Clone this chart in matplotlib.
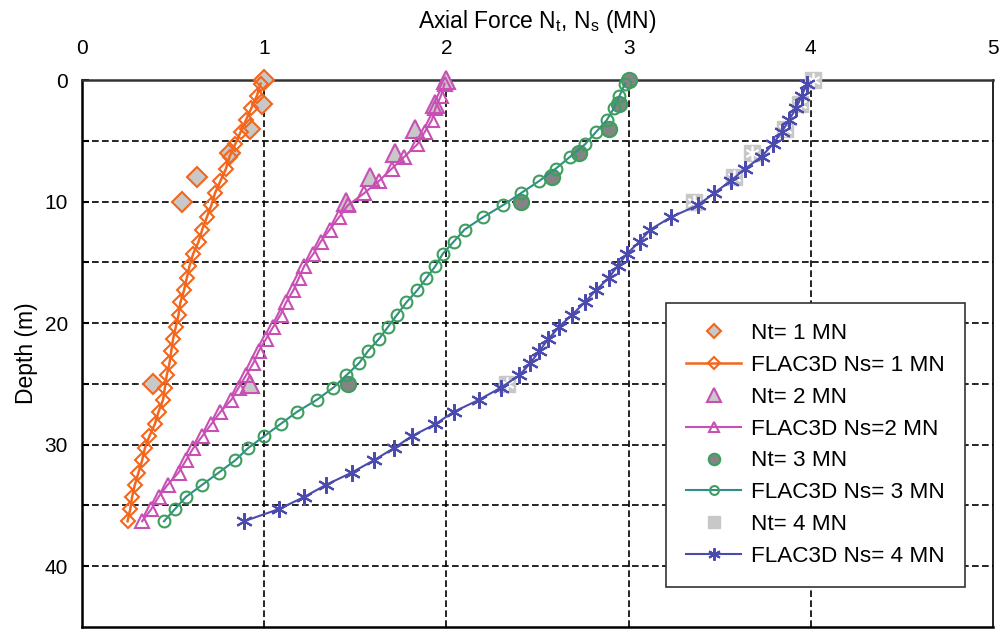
import matplotlib
matplotlib.use("Agg")
import matplotlib.pyplot as plt

plt.rcParams['font.family'] = ['Liberation Sans', 'DejaVu Sans']

# ---------------- data ----------------
flac_depth = [0.3, 1.3, 2.3, 3.3, 4.3, 5.3, 6.3, 7.3, 8.3, 9.3, 10.3, 11.3, 12.3,
              13.3, 14.3, 15.3, 16.3, 17.3, 18.3, 19.3, 20.3, 21.3, 22.3, 23.3,
              24.3, 25.3, 26.3, 27.3, 28.3, 29.3, 30.3, 31.3, 32.3, 33.3, 34.3,
              35.3, 36.3]
ns1 = [0.98, 0.96, 0.93, 0.90, 0.87, 0.84, 0.81, 0.79, 0.76, 0.73, 0.71, 0.685, 0.66,
       0.64, 0.61, 0.59, 0.575, 0.56, 0.54, 0.53, 0.515, 0.50, 0.49, 0.48,
       0.465, 0.455, 0.445, 0.42, 0.40, 0.37, 0.345, 0.33, 0.31, 0.29, 0.275,
       0.265, 0.25]
ns2 = [1.99, 1.97, 1.94, 1.92, 1.88, 1.84, 1.77, 1.70, 1.63, 1.55, 1.46, 1.41, 1.36,
       1.31, 1.27, 1.22, 1.19, 1.16, 1.12, 1.09, 1.05, 1.01, 0.97, 0.94,
       0.90, 0.86, 0.82, 0.76, 0.71, 0.66, 0.61, 0.57, 0.53, 0.47, 0.42,
       0.38, 0.33]
ns3 = [2.98, 2.95, 2.92, 2.88, 2.82, 2.76, 2.68, 2.60, 2.51, 2.41, 2.31, 2.20, 2.10,
       2.04, 1.98, 1.94, 1.89, 1.84, 1.78, 1.73, 1.68, 1.63, 1.57, 1.52,
       1.45, 1.38, 1.29, 1.18, 1.09, 1.00, 0.91, 0.84, 0.75, 0.66, 0.57,
       0.51, 0.45]
ns4 = [3.98, 3.95, 3.92, 3.88, 3.84, 3.79, 3.73, 3.64, 3.56, 3.47, 3.38, 3.23, 3.12,
       3.06, 2.99, 2.94, 2.89, 2.82, 2.76, 2.69, 2.62, 2.56, 2.51, 2.46,
       2.40, 2.30, 2.18, 2.04, 1.94, 1.81, 1.71, 1.60, 1.48, 1.34, 1.22,
       1.08, 0.89]

nt_depth = [0, 2, 4, 6, 8, 10, 25]
nt1 = [1.00, 0.99, 0.92, 0.81, 0.63, 0.55, 0.39]
nt2 = [2.00, 1.94, 1.83, 1.72, 1.58, 1.45, 0.92]
nt3 = [3.00, 2.95, 2.89, 2.73, 2.58, 2.41, 1.46]
nt4 = [4.01, 3.94, 3.86, 3.68, 3.58, 3.36, 2.33]

x_ticks = [0, 1, 2, 3, 4, 5]
y_ticks = [0, 10, 20, 30, 40]

# ---------------- colours ----------------
orange = '#F4661B'
pink = '#C84FB4'
green = '#3D9E5F'
teal = '#2E8F86'
blue = '#4B4BAF'
lgray = '#C8C8C8'
dgray = '#848484'

fig = plt.figure(figsize=(10.05, 6.30), dpi=100)
ax = fig.add_axes([82 / 1005, 3 / 630, (993 - 82) / 1005, (627 - 80) / 630])

ax.plot(nt1, nt_depth, ls='none', marker='D', ms=10, mfc=lgray, mec=orange,
        mew=1.5, label='Nt= 1 MN', clip_on=False, zorder=3)
ax.plot(ns1, flac_depth, color=orange, lw=1.8, marker='D', ms=7.5, mfc='none',
        mec=orange, mew=1.5, label='FLAC3D Ns= 1 MN', clip_on=False, zorder=4)
ax.plot(nt2, nt_depth, ls='none', marker='^', ms=12.5, mfc=lgray, mec=pink,
        mew=1.5, label='Nt= 2 MN', clip_on=False, zorder=3)
ax.plot(ns2, flac_depth, color=pink, lw=1.5, marker='^', ms=10.5, mfc='none',
        mec=pink, mew=1.5, label='FLAC3D Ns=2 MN', clip_on=False, zorder=4)
ax.plot(nt3, nt_depth, ls='none', marker='o', ms=11, mfc=dgray, mec=green,
        mew=1.5, label='Nt= 3 MN', clip_on=False, zorder=3)
ax.plot(ns3, flac_depth, color=teal, lw=1.5, marker='o', ms=8.5, mfc='none',
        mec=green, mew=1.5, label='FLAC3D Ns= 3 MN', clip_on=False, zorder=4)
ax.plot(nt4, nt_depth, ls='none', marker='s', ms=11, mfc=lgray, mec=lgray,
        mew=1.0, label='Nt= 4 MN', clip_on=False, zorder=3)
ax.plot(nt4, nt_depth, ls='none', marker=(6, 2, 0), ms=10, mec='white',
        mew=1.2, label='_nolegend_', clip_on=False, zorder=3.5)
ax.plot(ns4, flac_depth, color=blue, lw=1.5, marker=(6, 2, 0), ms=12,
        mec=blue, mew=1.5, label='FLAC3D Ns= 4 MN', clip_on=False, zorder=4)

ax.set_xlim(0, 5)
ax.set_ylim(45, 0)
ax.set_xticks(x_ticks)
ax.set_yticks(y_ticks)
ax.set_yticks([5, 15, 25, 35], minor=True)
ax.xaxis.tick_top()
ax.xaxis.set_label_position('top')
ax.tick_params(axis='x', length=0, pad=16, labelsize=15)
ax.tick_params(axis='y', which='both', direction='in', length=5, width=1.5,
               pad=10, labelsize=15, right=False)

for xv in [1, 2, 3, 4]:
    ax.axvline(xv, color='black', ls=(0, (4, 2)), lw=1.2, zorder=1)
for yv in [5, 10, 15, 20, 25, 30, 35, 40]:
    ax.axhline(yv, color='black', ls=(0, (4, 2)), lw=1.2, zorder=1)

ax.set_xlabel('Axial Force N$_\\mathregular{t}$, N$_\\mathregular{s}$ (MN)',
              fontsize=16.5, labelpad=8)
ax.set_ylabel('Depth (m)', fontsize=16.5, labelpad=5)

for side in ['top', 'left', 'right', 'bottom']:
    ax.spines[side].set_linewidth(1.8)
ax.spines['top'].set_color('#333333')
ax.spines['right'].set_linewidth(1.2)

leg = ax.legend(loc='lower left', bbox_to_anchor=(0.641, 0.073), fontsize=16.2,
                frameon=True, fancybox=False, edgecolor='#333333',
                framealpha=1, handlelength=2.45, handletextpad=0.45,
                labelspacing=0.48, borderpad=0.9, borderaxespad=0,
                markerscale=0.75)
leg.get_frame().set_linewidth(1.2)

fig.savefig('out.png', dpi=100)
